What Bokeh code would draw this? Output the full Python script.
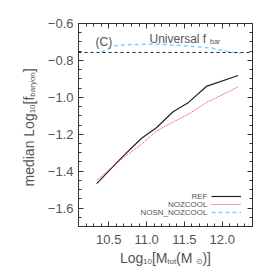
import numpy as np
from bokeh.plotting import figure
from bokeh.layouts import row, column
from bokeh.models import Label, Span, LinearAxis, FixedTicker, Legend, LegendItem, Range1d
from bokeh.core.properties import value
from bokeh.embed import file_html
from bokeh.resources import INLINE

# ---- data ----
mass_bins = [10.34, 10.69, 10.93, 11.13, 11.35, 11.55, 11.79, 12.21]
fb_ref = [-1.468, -1.319, -1.223, -1.165, -1.078, -1.029, -0.941, -0.882]
fb_nozcool = [-1.450, -1.328, -1.255, -1.183, -1.134, -1.092, -1.029, -0.943]
mass_nosn = [10.40, 10.59, 10.81, 11.11, 11.46, 11.85, 12.07, 12.24]
fb_nosn_nozcool = [-0.756, -0.720, -0.714, -0.711, -0.720, -0.732, -0.751, -0.763]
universal_fbar = -0.757
series_names = ["REF", "NOZCOOL", "NOSN_NOZCOOL"]

y_major = [-1.6, -1.4, -1.2, -1.0, -0.8, -0.6]
y_labels = ["\u22121.6", "\u22121.4", "\u22121.2", "\u22121.0", "\u22120.8", "\u22120.6"]
x_major = [10.5, 11.0, 11.5, 12.0]
x_labels = ["10.5", "11.0", "11.5", "12.0"]

FONT = "Liberation Sans"
TXT = "#555555"
AX = "#333333"

# layout geometry (page px, canvas origin observed at page 0,0)
YLW = 44                      # width of the y-label strip
MW, MH = 214, 251             # main figure
BL, BR, BT, BB = 32, 6, 23, 25
XLH = 18                      # height of the x-label strip
TOTH = MH + XLH
FL = YLW + BL                 # frame left
FR = YLW + MW - BR            # frame right
FB = BT + (MH - BT - BB)      # frame bottom

p = figure(width=MW, height=MH, x_range=Range1d(10.1, 12.4), y_range=Range1d(-1.7, -0.6),
           output_backend="svg", toolbar_location=None,
           min_border_left=BL, min_border_right=BR, min_border_top=BT, min_border_bottom=BB)
p.xgrid.visible = False
p.ygrid.visible = False
p.outline_line_color = None
p.background_fill_color = "white"

x_minor = list(np.round(np.arange(10.1, 12.41, 0.1), 2))
y_minor = list(np.round(np.arange(-1.7, -0.59, 0.05), 2))

def style(ax, show):
    ax.axis_line_color = AX
    ax.major_tick_line_color = AX
    ax.minor_tick_line_color = AX
    ax.major_tick_in = 5
    ax.major_tick_out = 0
    ax.minor_tick_in = 3
    ax.minor_tick_out = 0
    ax.major_label_text_font = FONT
    ax.major_label_text_color = TXT
    ax.major_label_text_font_size = "13px"
    if not show:
        ax.major_label_standoff = 0

p.xaxis.ticker = FixedTicker(ticks=x_major, minor_ticks=x_minor)
p.yaxis.ticker = FixedTicker(ticks=y_major, minor_ticks=y_minor)
p.xaxis.major_label_overrides = dict(zip(x_major, x_labels))
p.yaxis.major_label_overrides = dict(zip(y_major, y_labels))
style(p.xaxis[0], True)
style(p.yaxis[0], True)
p.xaxis.major_label_standoff = 8
p.yaxis.major_label_standoff = 5

top = LinearAxis(ticker=FixedTicker(ticks=x_major, minor_ticks=x_minor),
                 major_label_overrides={t: "" for t in x_major})
right = LinearAxis(ticker=FixedTicker(ticks=y_major, minor_ticks=y_minor),
                   major_label_overrides={t: "" for t in y_major})
style(top, False)
style(right, False)
p.add_layout(top, "above")
p.add_layout(right, "right")

# ---- lines ----
p.add_layout(Span(location=universal_fbar, dimension="width", line_color="#222222",
                  line_dash="3 3", line_width=1))
r_ref = p.line(mass_bins, fb_ref, line_color="#222222", line_width=1.2)
r_noz = p.line(mass_bins, fb_nozcool, line_color="#ff3030", line_width=1, line_dash="1 1")
r_nosn = p.line(mass_nosn, fb_nosn_nozcool, line_color="#87cefa", line_width=1.5, line_dash="4 3")

legend = Legend(items=[LegendItem(label=value(" "), renderers=[r]) for r in (r_ref, r_noz, r_nosn)],
                location=(209 - FL, FB - 215.7), glyph_width=30, glyph_height=8, label_width=0,
                label_standoff=0, label_height=8, spacing=0, padding=0, margin=0,
                border_line_color=None, background_fill_alpha=0, label_text_font_size="8px")
p.add_layout(legend)

# ---- text helpers ----
ADV = {'m': .833, 'e': .556, 'd': .556, 'i': .222, 'a': .556, 'n': .556, ' ': .278,
       'L': .556, 'o': .556, 'g': .556, '[': .278, 'f': .278, ']': .278, 'b': .556,
       'r': .333, 'y': .5, '1': .556, '0': .556, 'M': .833, 't': .278, '(': .333,
       ')': .333, '\u2299': .8}

def tw(s, size):
    return sum(ADV.get(c, .556) for c in s) * size

def lab(px, py, text, size, align="left"):
    # inside the frame: screen units measured from the frame's bottom-left corner
    p.add_layout(Label(x=px - FL, y=FB - py, x_units="screen", y_units="screen",
                       text=text, text_font=FONT, text_font_size=f"{size}px",
                       text_color=TXT, text_align=align, text_baseline="middle"))

def strip(w, h, x0, x1, bl=0, br=0):
    f = figure(width=w, height=h, x_range=Range1d(x0, x1), y_range=Range1d(0, h),
               output_backend="svg", toolbar_location=None, x_axis_type=None,
               y_axis_type=None, min_border=0, min_border_left=bl, min_border_right=br)
    f.grid.visible = False
    f.outline_line_color = None
    return f

def put(f, x, y, text, size, angle=0.0):
    f.text(x=[x], y=[y], text=[text], angle=angle, text_font=value(FONT),
           text_font_size=value(f"{size}px"), text_color=TXT,
           text_align="left", text_baseline="middle")

MAIN, SUB = 14, 8

# y-axis label strip (page x 0..YLW, page y 0..TOTH), rotated text reading upward
yl = strip(YLW, TOTH, 0, YLW)
pieces_y = [("median Log", MAIN), ("10", SUB), ("[f", MAIN), ("baryon", SUB), ("]", MAIN)]
pyy = 186.0
for t, s in pieces_y:
    put(yl, 28 + (4 if s == SUB else 0), TOTH - pyy, t, s, angle=np.pi / 2)
    pyy -= tw(t, s)

# x-axis label strip: same borders as the main figure, so its frame spans page x FL..FR
xl = strip(MW, XLH, FL, FR, bl=BL, br=BR)
pieces_x = [("Log", MAIN), ("10", SUB), ("[M", MAIN), ("tot", SUB), (" (M", MAIN),
            ("\u2299", SUB), (")]", MAIN)]
pxx = 118.0
for t, s in pieces_x:
    put(xl, pxx, TOTH - (257 + (4 if s == SUB else 0)), t, s)
    pxx += tw(t, s)

# in-plot texts
lab(93, 41.5, "(C)", 12)
lab(147, 38, "Universal f", 12)
lab(147 + tw("Universal f", 12) + 0.5, 41, "bar", 7)

# legend texts
for name, yy in zip(series_names, [195.7, 203.7, 211.7]):
    lab(205, yy, name, 8, align="right")

layout = row(yl, column(p, xl))
open("out.html", "w").write(file_html(layout, INLINE))
